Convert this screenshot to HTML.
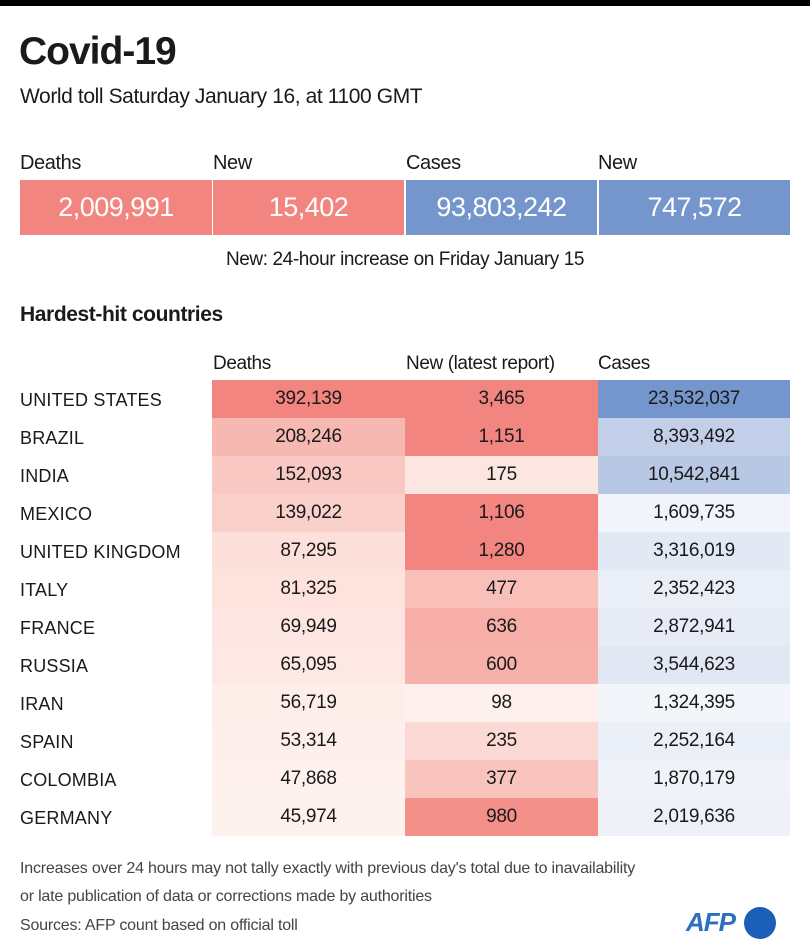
<!DOCTYPE html>
<html><head><meta charset="utf-8"><style>
body{margin:0;width:810px;height:950px;background:#fff;font-family:"Liberation Sans",sans-serif;color:#1a1a1a;position:relative;overflow:hidden}
.a{position:absolute;white-space:nowrap}
.bar{position:absolute;left:0;top:0;width:810px;height:6px;background:#000}
.box{position:absolute;top:180px;height:55px;color:#fff;font-size:27px;text-align:center;line-height:55px;letter-spacing:-0.5px}
.cell{position:absolute;height:38px;line-height:38px;text-align:center;font-size:19px;letter-spacing:-0.3px}
.lab{position:absolute;left:20px;height:38px;line-height:40px;font-size:18px;letter-spacing:0.2px}
</style></head><body>
<div class="bar"></div>
<div class="a" style="left:19px;top:30px;font-size:39px;font-weight:bold;letter-spacing:-1px">Covid-19</div>
<div class="a" style="left:20px;top:85px;font-size:21px;letter-spacing:-0.4px">World toll Saturday January 16, at 1100 GMT</div>
<div class="a" style="left:20px;top:152px;font-size:20px;letter-spacing:-0.4px">Deaths</div>
<div class="a" style="left:213px;top:152px;font-size:20px;letter-spacing:-0.4px">New</div>
<div class="a" style="left:406px;top:152px;font-size:20px;letter-spacing:-0.4px">Cases</div>
<div class="a" style="left:598px;top:152px;font-size:20px;letter-spacing:-0.4px">New</div>
<div class="box" style="left:20px;width:192px;background:#f28580">2,009,991</div>
<div class="box" style="left:213px;width:191px;background:#f28580">15,402</div>
<div class="box" style="left:406px;width:191px;background:#7596cc">93,803,242</div>
<div class="box" style="left:599px;width:191px;background:#7596cc">747,572</div>
<div class="a" style="left:0;width:810px;text-align:center;top:249px;font-size:19px;letter-spacing:-0.4px">New: 24-hour increase on Friday January 15</div>
<div class="a" style="left:20px;top:303px;font-size:21px;font-weight:bold;letter-spacing:-0.4px">Hardest-hit countries</div>
<div class="a" style="left:213px;top:353px;font-size:19px;letter-spacing:-0.4px">Deaths</div>
<div class="a" style="left:406px;top:353px;font-size:19px;letter-spacing:-0.4px">New (latest report)</div>
<div class="a" style="left:598px;top:353px;font-size:19px;letter-spacing:-0.4px">Cases</div>
<div id="t"></div>
<div class="a" style="left:20px;top:860px;font-size:16px;color:#444;letter-spacing:-0.2px">Increases over 24 hours may not tally exactly with previous day's total due to inavailability</div>
<div class="a" style="left:20px;top:888px;font-size:16px;color:#444;letter-spacing:-0.2px">or late publication of data or corrections made by authorities</div>
<div class="a" style="left:20px;top:917px;font-size:16px;color:#444;letter-spacing:-0.2px">Sources: AFP count based on official toll</div>
<div class="a" style="left:686px;top:907px;font-size:26px;font-weight:bold;font-style:italic;color:#2a6fc0;letter-spacing:-1px">AFP</div>
<div class="a" style="left:744px;top:907px;width:32px;height:32px;border-radius:50%;background:#1a5fb8"></div>
<script>
var rows=[["UNITED STATES","392,139","3,465","23,532,037","#f28580","#f28580","#7596cc"],
["BRAZIL","208,246","1,151","8,393,492","#f7b8b2","#f28580","#c3cfe8"],
["INDIA","152,093","175","10,542,841","#f9c8c3","#fce6e1","#b8c7e4"],
["MEXICO","139,022","1,106","1,609,735","#fad0cb","#f28580","#f1f4fa"],
["UNITED KINGDOM","87,295","1,280","3,316,019","#fde0dc","#f28580","#e3e9f4"],
["ITALY","81,325","477","2,352,423","#fde2de","#f9c0b9","#eaeef6"],
["FRANCE","69,949","636","2,872,941","#fde6e2","#f7aea7","#e6ebf5"],
["RUSSIA","65,095","600","3,544,623","#fde8e4","#f7b1aa","#e1e7f3"],
["IRAN","56,719","98","1,324,395","#feeeea","#fdf0ed","#f2f5fa"],
["SPAIN","53,314","235","2,252,164","#feefec","#fbd9d4","#ebeff7"],
["COLOMBIA","47,868","377","1,870,179","#fef1ee","#f9c4bd","#eff2f9"],
["GERMANY","45,974","980","2,019,636","#fef2ef","#f3908a","#eef1f8"]];
var h="",xs=[212,405,598],ws=[193,193,192];
rows.forEach(function(r,i){var y=380+i*38;
h+='<div class="lab" style="top:'+y+'px">'+r[0]+'</div>';
for(var c=0;c<3;c++)h+='<div class="cell" style="left:'+xs[c]+'px;width:'+ws[c]+'px;top:'+y+'px;background:'+r[4+c]+'">'+r[1+c]+'</div>';});
document.getElementById("t").innerHTML=h;
</script>
</body></html>
